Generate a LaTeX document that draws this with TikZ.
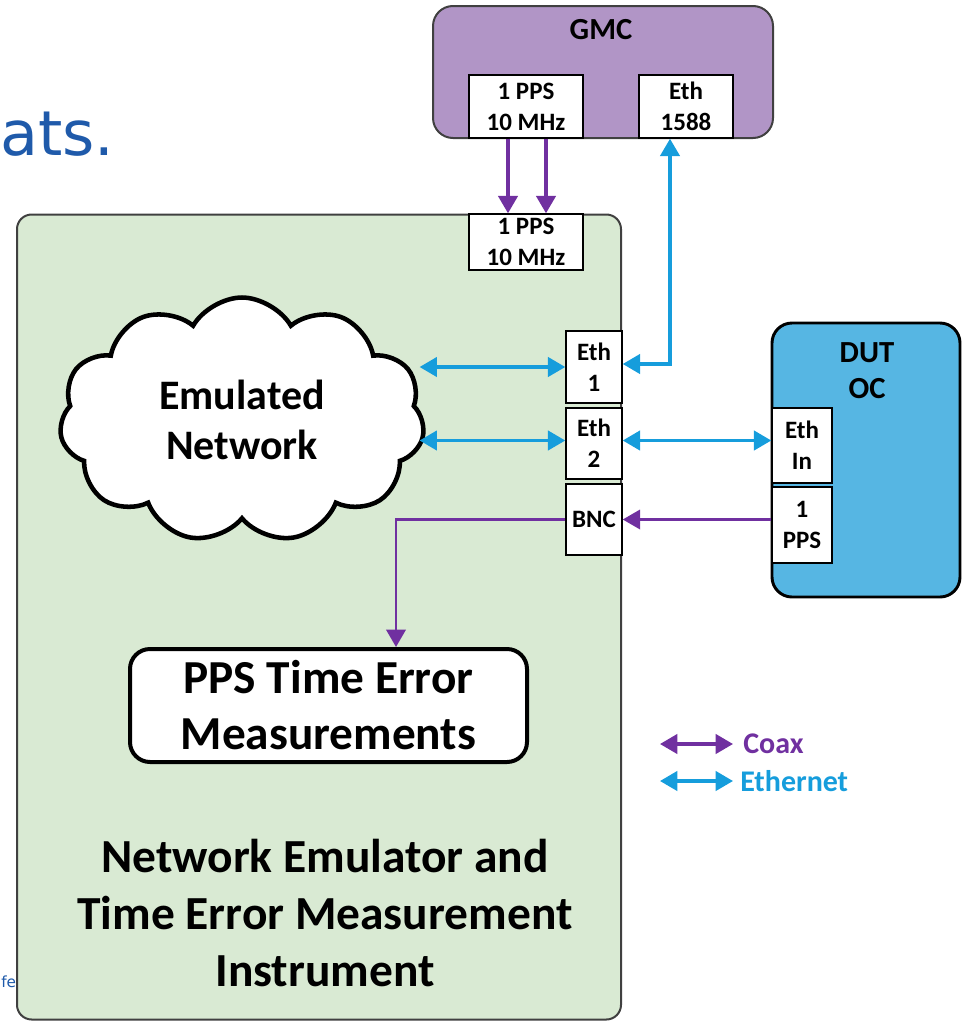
\documentclass[tikz,border=0pt]{standalone}
\usepackage{fontspec}
\setmainfont{Carlito}
\newfontfamily\slidefont{DejaVu Sans}
\usetikzlibrary{arrows.meta,shapes.symbols,calc}

\definecolor{panelgreen}{RGB}{217,234,211}
\definecolor{gmcpurple}{RGB}{177,149,198}
\definecolor{dutblue}{RGB}{86,182,227}
\definecolor{coaxcol}{RGB}{112,48,160}
\definecolor{ethcol}{RGB}{22,157,220}
\definecolor{slideblue}{RGB}{31,90,170}
\definecolor{framegray}{RGB}{64,64,64}

\begin{document}
\begin{tikzpicture}[x=0.75pt,y=-0.75pt,
  port/.style={draw=black,line width=1.1pt,fill=white,inner sep=0pt,align=center,
    font=\bfseries\fontsize{18.75}{23.25}\selectfont},
  boxtitle/.style={inner sep=0pt,align=center,font=\bfseries\fontsize{23}{27}\selectfont},
  arrowone/.style={-{Triangle[width=14.5pt,length=13pt]}},
  arrowtwo/.style={{Triangle[width=14.5pt,length=13pt]}-{Triangle[width=14.5pt,length=13pt]}},
  coax/.style={draw=coaxcol,line width=2.4pt},
  thincoax/.style={draw=coaxcol,line width=1.9pt},
  eth/.style={draw=ethcol,line width=2.4pt},
  legendtxt/.style={inner sep=0pt,anchor=west,font=\bfseries\fontsize{22.5}{26}\selectfont},
]
\useasboundingbox (0,0) rectangle (963,1021);

% slide text fragments
\node[inner sep=0pt,anchor=base west,text=slideblue,font=\slidefont\fontsize{46.5}{54}\selectfont] (slidehead) at (0,155) {ats.};
\node[inner sep=0pt,anchor=base west,text=slideblue,font=\slidefont\fontsize{11.5}{14}\selectfont] (slidefoot) at (1,987) {fe};

% instrument panel
\node[draw=framegray,line width=1.5pt,fill=panelgreen,rounded corners=11pt,
  minimum width=453pt,minimum height=603.75pt,inner sep=0pt] (instr) at (319,617) {};

% grandmaster clock
\node[draw=framegray,line width=1.5pt,fill=gmcpurple,rounded corners=15pt,
  minimum width=255pt,minimum height=99pt,inner sep=0pt] (gmc) at (603,72) {};
\node[boxtitle] (gmctitle) at (601,30) {GMC};
\node[port,minimum width=85.5pt,minimum height=47.25pt] (gpps) at (526,106.5) {1 PPS\\10 MHz};
\node[port,minimum width=70.5pt,minimum height=47.25pt] (geth) at (686,106.5) {Eth\\1588};

% device under test
\node[draw=black,line width=2.2pt,fill=dutblue,rounded corners=15pt,
  minimum width=141pt,minimum height=205.5pt,inner sep=0pt] (dut) at (866,460) {};
\node[boxtitle] (duttitle) at (867,371) {DUT\\OC};
\node[port,minimum width=45pt,minimum height=56.25pt] (ethin) at (802,445.5) {Eth\\In};
\node[port,minimum width=45pt,minimum height=57pt] (dpps) at (802,525) {1\\PPS};

% instrument ports
\node[port,minimum width=85.5pt,minimum height=42pt] (ipps) at (526,242) {1 PPS\\10 MHz};
\node[port,minimum width=42pt,minimum height=54pt] (eth1) at (594,367) {Eth\\1};
\node[port,minimum width=42pt,minimum height=53.25pt] (eth2) at (594,443.5) {Eth\\2};
\node[port,minimum width=42pt,minimum height=53.25pt] (bnc) at (594,519.5) {BNC};

% emulated network and measurement block
\node[cloud,cloud puffs=11,cloud puff arc=120,aspect=1.5,draw=black,line width=3.4pt,fill=white,
  minimum width=273.75pt,minimum height=183.75pt,inner sep=0pt,align=center,
  font=\bfseries\fontsize{31.5}{37.5}\selectfont] (cloud) at (242,420) {Emulated\\Network};
\node[draw=black,line width=3pt,fill=white,rounded corners=15pt,
  minimum width=297.75pt,minimum height=84.75pt,inner sep=0pt,align=center,
  font=\bfseries\fontsize{35.5}{42}\selectfont] (meas) at (328.5,705.5) {PPS Time Error\\Measurements};
\node[inner sep=0pt,align=center,font=\bfseries\fontsize{35.6}{42.75}\selectfont] (instrname) at (325,913)
  {Network Emulator and\\Time Error Measurement\\Instrument};

% coax connections
\draw[coax,arrowone] ($(gpps.south)+(-18,0)$) -- ($(ipps.north)+(-18,0)$);
\draw[coax,arrowone] ($(gpps.south)+(20,0)$) -- ($(ipps.north)+(20,0)$);
\draw[thincoax,arrowone] (dpps.west |- bnc.east) -- (bnc.east);
\draw[thincoax,arrowone] (bnc.west) -| ($(meas.north)+(67.5,0)$);

% ethernet connections
\draw[eth,arrowtwo] ($(eth1.east)+(0,-3)$) -| ($(geth.south)+(-16,0)$);
\draw[eth,arrowtwo] ($(eth1.west -| cloud.east)+(-5,0)$) -- (eth1.west);
\draw[eth,arrowtwo] ($(eth2.west -| cloud.east)+(-5,-3)$) -- ($(eth2.west)+(0,-3)$);
\draw[eth,arrowtwo] ($(eth2.east)+(0,-3)$) -- ($(ethin.west)+(0,-5)$);

% legend
\node[legendtxt,text=coaxcol] (coaxlbl) at (743,744) {Coax};
\node[legendtxt,text=ethcol] (ethlbl) at (740,781) {Ethernet};
\coordinate (coaxstart) at (660,744);
\coordinate (ethstart) at (660,781);
\draw[coax,arrowtwo,shorten >=7.5pt] (coaxstart) -- (coaxlbl.west);
\draw[eth,arrowtwo,shorten >=5.25pt] (ethstart) -- (ethlbl.west);
\end{tikzpicture}
\end{document}
